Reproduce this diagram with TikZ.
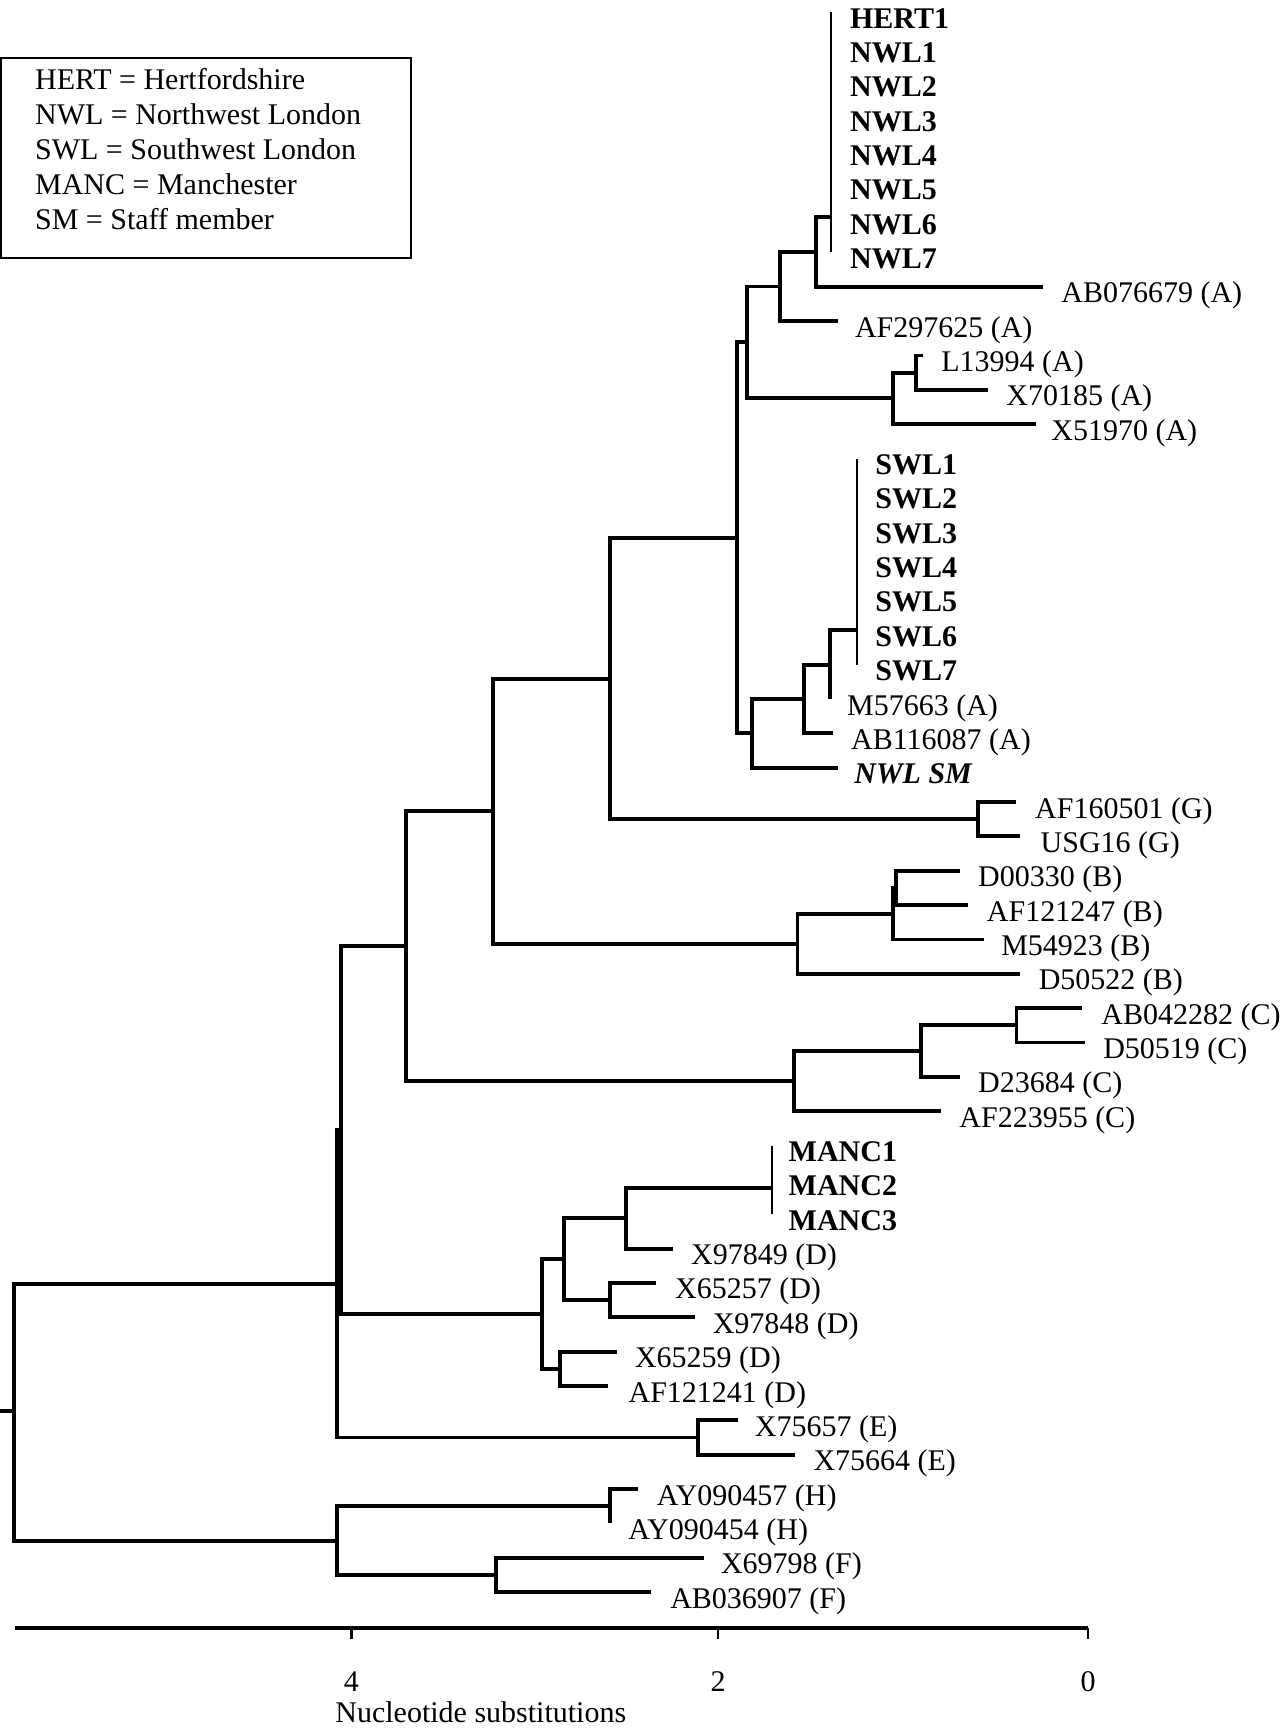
\documentclass[tikz,border=0pt]{standalone}
\usepackage{fontspec}
\setmainfont{Liberation Serif}
\begin{document}
\begin{tikzpicture}[x=0.5pt,y=-0.5pt,
  br/.style={line width=1.95pt, line join=miter},
  clbar/.style={line width=1pt},
  lab/.style={anchor=base west, inner sep=0pt, font=\fontsize{15pt}{18pt}\selectfont},
  blab/.style={anchor=base west, inner sep=0pt, font=\fontsize{15pt}{18pt}\selectfont\bfseries},
  ilab/.style={anchor=base west, inner sep=0pt, font=\fontsize{15pt}{18pt}\selectfont\bfseries\itshape},
  tick/.style={anchor=base, inner sep=0pt, font=\fontsize{15pt}{18pt}\selectfont},
]
\useasboundingbox (0,0) rectangle (1281,1730);

% legend
\draw[line width=1pt] (1,58) rectangle (411,258);
\node[lab] (leg1) at (34.7,89.5) {HERT = Hertfordshire};
\node[lab] (leg2) at (34.7,124.5) {NWL = Northwest London};
\node[lab] (leg3) at (34.7,159.5) {SWL = Southwest London};
\node[lab] (leg4) at (34.7,194.5) {MANC = Manchester};
\node[lab] (leg5) at (34.7,229.5) {SM = Staff member};

% ---------- leaf labels ----------
\node[blab] (L1) at (849.7,28) {HERT1};
\node[blab] (L2) at (849.7,62.35) {NWL1};
\node[blab] (L3) at (849.7,96.7) {NWL2};
\node[blab] (L4) at (849.7,131.05) {NWL3};
\node[blab] (L5) at (849.7,165.4) {NWL4};
\node[blab] (L6) at (849.7,199.75) {NWL5};
\node[blab] (L7) at (849.7,234.1) {NWL6};
\node[blab] (L8) at (849.7,268.45) {NWL7};
\node[lab] (L9) at (1061,302.8) {AB076679 (A)};
\node[lab] (L10) at (854.6,337.15) {AF297625 (A)};
\node[lab] (L11) at (941,371.5) {L13994 (A)};
\node[lab] (L12) at (1006,405.85) {X70185 (A)};
\node[lab] (L13) at (1051,440.2) {X51970 (A)};
\node[blab] (L14) at (875,474.55) {SWL1};
\node[blab] (L15) at (875,508.9) {SWL2};
\node[blab] (L16) at (875,543.25) {SWL3};
\node[blab] (L17) at (875,577.6) {SWL4};
\node[blab] (L18) at (875,611.95) {SWL5};
\node[blab] (L19) at (875,646.3) {SWL6};
\node[blab] (L20) at (875,680.65) {SWL7};
\node[lab] (L21) at (846.7,715) {M57663 (A)};
\node[lab] (L22) at (850.7,749.35) {AB116087 (A)};
\node[ilab] (L23) at (854,783.7) {NWL SM};
\node[lab] (L24) at (1034.8,818.05) {AF160501 (G)};
\node[lab] (L25) at (1040.3,852.4) {USG16 (G)};
\node[lab] (L26) at (977.7,886.75) {D00330 (B)};
\node[lab] (L27) at (986.5,921.1) {AF121247 (B)};
\node[lab] (L28) at (1000.9,955.45) {M54923 (B)};
\node[lab] (L29) at (1038.4,989.8) {D50522 (B)};
\node[lab] (L30) at (1101,1024.15) {AB042282 (C)};
\node[lab] (L31) at (1102.9,1058.5) {D50519 (C)};
\node[lab] (L32) at (977.7,1092.85) {D23684 (C)};
\node[lab] (L33) at (959,1127.2) {AF223955 (C)};
\node[blab] (L34) at (788.3,1161.55) {MANC1};
\node[blab] (L35) at (788.3,1195.9) {MANC2};
\node[blab] (L36) at (788.3,1230.25) {MANC3};
\node[lab] (L37) at (690.7,1264.6) {X97849 (D)};
\node[lab] (L38) at (674.7,1298.95) {X65257 (D)};
\node[lab] (L39) at (712.4,1333.3) {X97848 (D)};
\node[lab] (L40) at (634.6,1367.65) {X65259 (D)};
\node[lab] (L41) at (628.2,1402) {AF121241 (D)};
\node[lab] (L42) at (754.5,1436.35) {X75657 (E)};
\node[lab] (L43) at (813.1,1470.7) {X75664 (E)};
\node[lab] (L44) at (656.5,1505.05) {AY090457 (H)};
\node[lab] (L45) at (628,1539.4) {AY090454 (H)};
\node[lab] (L46) at (720.6,1573.75) {X69798 (F)};
\node[lab] (L47) at (669.9,1608.1) {AB036907 (F)};

% ---------- tips ----------
\coordinate (t9) at (1042.7,286.8);
\coordinate (t10) at (837.5,321.15);
\coordinate (t11) at (923,355.5);
\coordinate (t12) at (988,389.85);
\coordinate (t13) at (1035.7,424.2);
\coordinate (t21) at (829.8,699);
\coordinate (t22) at (832.7,733.35);
\coordinate (t23) at (838.3,767.7);
\coordinate (t24) at (1016,802.05);
\coordinate (t25) at (1019.6,836.4);
\coordinate (t26) at (960.2,870.75);
\coordinate (t27) at (968.3,905.1);
\coordinate (t28) at (984,939.45);
\coordinate (t29) at (1019.6,973.8);
\coordinate (t30) at (1082.2,1008.15);
\coordinate (t31) at (1085.4,1042.5);
\coordinate (t32) at (960.2,1076.85);
\coordinate (t33) at (941.4,1111.2);
\coordinate (t37) at (672.8,1248.6);
\coordinate (t38) at (655.6,1282.95);
\coordinate (t39) at (695.2,1317.3);
\coordinate (t40) at (617.3,1351.65);
\coordinate (t41) at (607.8,1386);
\coordinate (t42) at (737.9,1420.35);
\coordinate (t43) at (795.3,1454.7);
\coordinate (t44) at (638,1489.05);
\coordinate (t45) at (610.3,1523.4);
\coordinate (t46) at (704.2,1557.75);
\coordinate (t47) at (651.1,1592.1);

% cluster bars
\coordinate (nwlTop) at (831.3,12);
\coordinate (nwlBot) at (831.3,252.45);
\coordinate (nwlJ) at (831.3,217);
\coordinate (swlTop) at (857,458.55);
\coordinate (swlBot) at (857,664.65);
\coordinate (swlJ) at (857,630.3);
\coordinate (mancTop) at (771.7,1145.55);
\coordinate (mancBot) at (771.7,1214.25);
\coordinate (mancJ) at (771.7,1188);
\draw[clbar] (nwlTop) -- (nwlBot);
\draw[clbar] (swlTop) -- (swlBot);
\draw[clbar] (mancTop) -- (mancBot);

% ---------- internal nodes ----------
\coordinate (a) at (815.8,251.9);
\coordinate (b) at (780.2,286.5);
\coordinate (e) at (916,372.7);
\coordinate (d) at (893.4,398.4);
\coordinate (c) at (747.1,342.4);
\coordinate (h) at (829.8,664.6);
\coordinate (g) at (804.3,699);
\coordinate (i) at (752.2,733.3);
\coordinate (f) at (737,537.9);
\coordinate (k) at (977.6,819.2);
\coordinate (j) at (609.7,678.6);
\coordinate (o1) at (896.4,887.9);
\coordinate (o2) at (892.6,913.7);
\coordinate (n) at (797.5,943.75);
\coordinate (l) at (492.7,811.2);
\coordinate (s) at (1016.5,1025.3);
\coordinate (r) at (921.4,1051.1);
\coordinate (p) at (794.4,1081.1);
\coordinate (m) at (406,946.2);
\coordinate (x1) at (626.3,1218.3);
\coordinate (y1) at (610.3,1300.1);
\coordinate (v) at (564.4,1259.2);
\coordinate (w) at (560,1368.8);
\coordinate (u) at (542.1,1314);
\coordinate (q1) at (340.7,1130.1);
\coordinate (z) at (698.3,1437.5);
\coordinate (q2) at (337.3,1283.8);
\coordinate (bb) at (610.3,1506.2);
\coordinate (cc) at (495.9,1574.9);
\coordinate (aa) at (336.6,1540.6);
\coordinate (root) at (14,1411);
\coordinate (rootstub) at (0,1411);

% ---------- branches ----------
\draw[br] (a) |- (nwlJ);
\draw[br] (a) |- (t9);
\draw[br] (b) |- (a);
\draw[br] (b) |- (t10);
\draw[br] (e) |- (t11);
\draw[br] (e) |- (t12);
\draw[br] (d) |- (e);
\draw[br] (d) |- (t13);
\draw[br] (c) |- (b);
\draw[br] (c) |- (d);
\draw[br] (h) |- (swlJ);
\draw[br] (h) |- (t21);
\draw[br] (g) |- (h);
\draw[br] (g) |- (t22);
\draw[br] (i) |- (g);
\draw[br] (i) |- (t23);
\draw[br] (f) |- (c);
\draw[br] (f) |- (i);
\draw[br] (k) |- (t24);
\draw[br] (k) |- (t25);
\draw[br] (j) |- (f);
\draw[br] (j) |- (k);
\draw[br] (o1) |- (t26);
\draw[br] (o1) |- (t27);
\draw[br] (o2) |- (o1);
\draw[br] (o2) |- (t28);
\draw[br] (n) |- (o2);
\draw[br] (n) |- (t29);
\draw[br] (l) |- (j);
\draw[br] (l) |- (n);
\draw[br] (s) |- (t30);
\draw[br] (s) |- (t31);
\draw[br] (r) |- (s);
\draw[br] (r) |- (t32);
\draw[br] (p) |- (r);
\draw[br] (p) |- (t33);
\draw[br] (m) |- (l);
\draw[br] (m) |- (p);
\draw[br] (x1) |- (mancJ);
\draw[br] (x1) |- (t37);
\draw[br] (y1) |- (t38);
\draw[br] (y1) |- (t39);
\draw[br] (v) |- (x1);
\draw[br] (v) |- (y1);
\draw[br] (w) |- (t40);
\draw[br] (w) |- (t41);
\draw[br] (u) |- (v);
\draw[br] (u) |- (w);
\draw[br] (q1) |- (m);
\draw[br] (q1) |- (u);
\draw[br] (z) |- (t42);
\draw[br] (z) |- (t43);
\draw[br] (q2) |- (q1);
\draw[br] (q2) |- (z);
\draw[br] (bb) |- (t44);
\draw[br] (bb) |- (t45);
\draw[br] (cc) |- (t46);
\draw[br] (cc) |- (t47);
\draw[br] (aa) |- (bb);
\draw[br] (aa) |- (cc);
\draw[br] (root) |- (q2);
\draw[br] (root) |- (aa);
\draw[br] (rootstub) -- (root);

% ---------- axis ----------
\coordinate (ax0) at (14.7,1627.7);
\coordinate (ax1) at (1088.2,1627.7);
\coordinate (tk4) at (351.3,1627.7);
\coordinate (tk2) at (718.1,1627.7);
\coordinate (tk0) at (1088.2,1627.7);
\draw[line width=1.95pt] (ax0) -- (ax1);
\draw[line width=1.2pt] (tk4) -- ++(0,11);
\draw[line width=1.2pt] (tk2) -- ++(0,11);
\draw[line width=1.2pt] (tk0) -- ++(0,11);
\node[tick] (n4) at (351.3,1691.7) {4};
\node[tick] (n2) at (718.1,1691.7) {2};
\node[tick] (n0) at (1088.2,1691.7) {0};
\node[lab] (axlab) at (335,1722) {Nucleotide substitutions};
\end{tikzpicture}
\end{document}
